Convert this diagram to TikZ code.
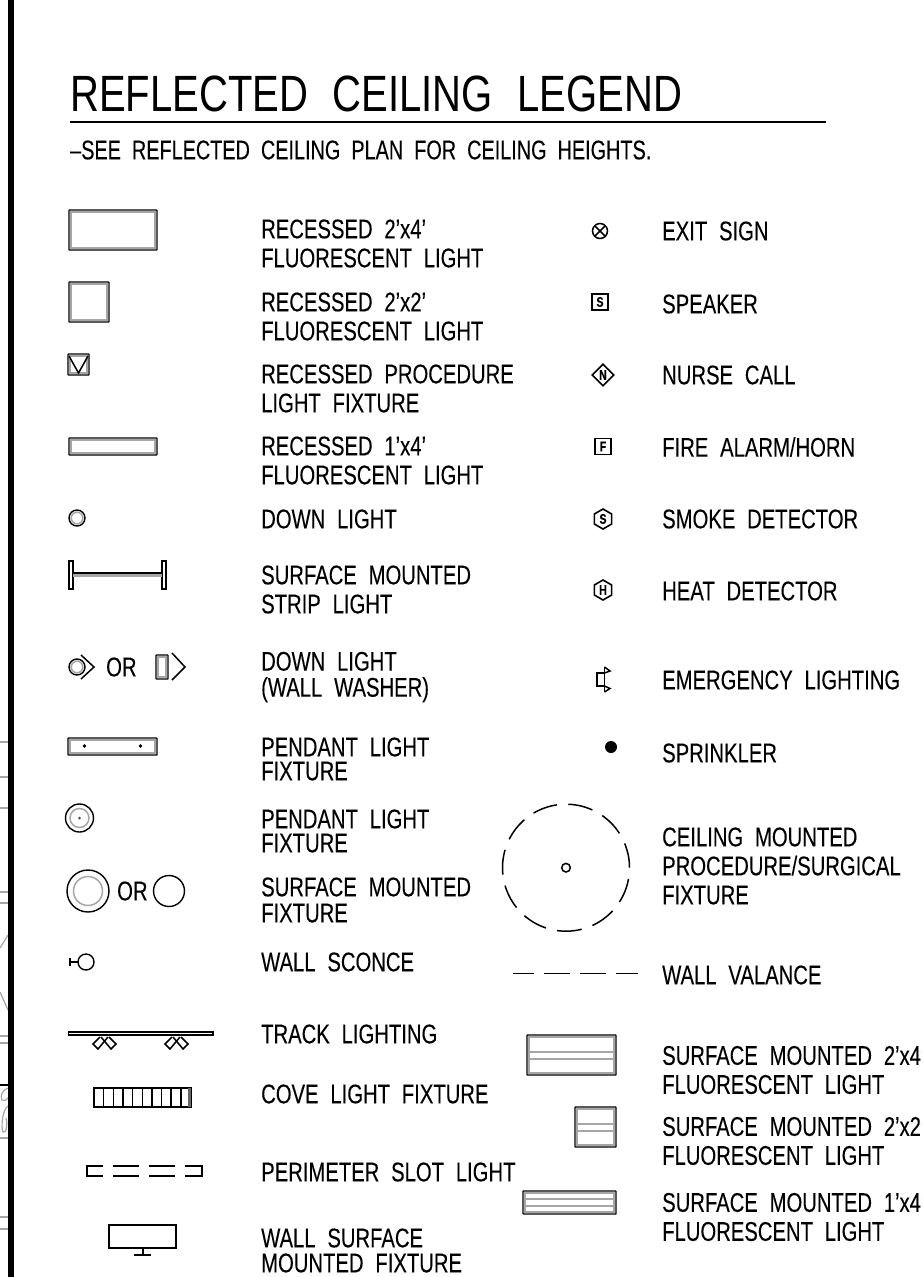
\documentclass[tikz,border=0pt]{standalone}
\usepackage{fontspec}
\setmainfont[FakeStretch=0.75,WordSpace=2.1,FakeBold=0.12]{Liberation Sans}
\newfontfamily\titlefont[FakeStretch=0.785,WordSpace=2.2]{Liberation Sans}
\newfontfamily\notefont[Ligatures=TeX,FakeStretch=0.735,WordSpace=2.0,FakeBold=0.12]{Liberation Sans}
\usepackage{tikz}
\usetikzlibrary{positioning,shapes.geometric}
\tikzset{
  lbl/.style={anchor=west, align=left, inner sep=0pt, font=\fontsize{27}{29}\selectfont},
  lampout/.style={draw=black, line width=1.4pt},
  lampin/.style={draw=black!35, line width=2.4pt},
  ringin/.style={draw=black!35, line width=1.5pt},
  thinline/.style={draw=black, line width=1.5pt},
  sheet/.style={draw=black!35, line width=1.2pt},
  tag/.style={draw=black, line width=1.6pt, inner sep=0pt, font=\fontsize{14}{14}\selectfont\bfseries},
  box/.style={tag, rectangle, minimum size=16pt},
  diamondtag/.style={tag, diamond, minimum size=22pt},
  hextag/.style={tag, regular polygon, regular polygon sides=6, regular polygon rotate=30, minimum size=20pt},
}
\begin{document}
\begin{tikzpicture}[x=1pt,y=-1pt]
  \clip[use as bounding box] (0,0) rectangle (922,1277);

  % sheet edge
  \foreach \yy in {742,777,808,892,903,1036,1043,1138,1217,1229}
    \draw[sheet] (0,\yy) -- (8,\yy);
  \draw[sheet] (0,948) -- (8,935);
  \draw[sheet] (0,992) -- (8,1010);
  \draw[sheet] (8,1088) .. controls (2,1090) and (0,1096) .. (2,1100) .. controls (4,1102) and (6,1100) .. (8,1098);
  \draw[sheet] (8,1106) .. controls (2,1110) and (1,1128) .. (3,1132) .. controls (6,1134) and (8,1124) .. (6,1118);
  \draw[draw=black, line width=1.2pt] (0,1085) -- (8,1085);
  \draw[draw=black, line width=6pt] (11,0) -- (11,1277);

  % heading
  \node[anchor=west, inner sep=0pt, font=\fontsize{51}{51}\titlefont] (title) at (70,94) {REFLECTED CEILING LEGEND};
  \coordinate (ruleA) at (70,122);
  \coordinate (ruleB) at (826,122);
  \draw[thinline] (ruleA) -- (ruleB);
  \node[lbl, font=\fontsize{27}{29}\notefont] (note) at (70,150) {--SEE REFLECTED CEILING PLAN FOR CEILING HEIGHTS.};

  % left labels
  \node[lbl] (lblA) at (261,243.5) {RECESSED 2'x4'\\FLUORESCENT LIGHT};
  \node[lbl] (lblB) at (261,316.5) {RECESSED 2'x2'\\FLUORESCENT LIGHT};
  \node[lbl] (lblC) at (261,388.5) {RECESSED PROCEDURE\\LIGHT FIXTURE};
  \node[lbl] (lblD) at (261,460.5) {RECESSED 1'x4'\\FLUORESCENT LIGHT};
  \node[lbl] (lblE) at (261,519) {DOWN LIGHT};
  \node[lbl] (lblF) at (261,589.5) {SURFACE MOUNTED\\STRIP LIGHT};
  \node[lbl] (lblG) at (261,677) {DOWN LIGHT\\[-3pt](WALL WASHER)};
  \node[lbl] (lblH) at (261,759) {PENDANT LIGHT\\[-5pt]FIXTURE};
  \node[lbl] (lblI) at (261,831) {PENDANT LIGHT\\[-5pt]FIXTURE};
  \node[lbl] (lblJ) at (261,900) {SURFACE MOUNTED\\[-3pt]FIXTURE};
  \node[lbl] (lblK) at (261,962) {WALL SCONCE};
  \node[lbl] (lblL) at (261,1034) {TRACK LIGHTING};
  \node[lbl] (lblM) at (261,1094) {COVE LIGHT FIXTURE};
  \node[lbl] (lblN) at (261,1172) {PERIMETER SLOT LIGHT};
  \node[lbl] (lblO) at (261,1250.5) {WALL SURFACE\\[-4pt]MOUNTED FIXTURE};

  % right labels
  \node[lbl] (lblP) at (662,231) {EXIT SIGN};
  \node[lbl] (lblQ) at (662,304) {SPEAKER};
  \node[lbl] (lblR) at (662,375) {NURSE CALL};
  \node[lbl] (lblS) at (662,447) {FIRE ALARM/HORN};
  \node[lbl] (lblT) at (662,519) {SMOKE DETECTOR};
  \node[lbl] (lblU) at (662,591) {HEAT DETECTOR};
  \node[lbl] (lblV) at (662,680) {EMERGENCY LIGHTING};
  \node[lbl] (lblW) at (662,753) {SPRINKLER};
  \node[lbl] (lblX) at (662,866) {CEILING MOUNTED\\PROCEDURE/SURGICAL\\FIXTURE};
  \node[lbl] (lblY) at (662,975) {WALL VALANCE};
  \node[lbl] (lblZ) at (662,1070) {SURFACE MOUNTED 2'x4'\\FLUORESCENT LIGHT};
  \node[lbl] (lblAA) at (662,1141) {SURFACE MOUNTED 2'x2'\\FLUORESCENT LIGHT};
  \node[lbl] (lblAB) at (662,1217) {SURFACE MOUNTED 1'x4'\\FLUORESCENT LIGHT};

  % recessed and surface fixtures
  \foreach \xa/\ya/\xb/\yb in {69/210/157/250, 69/282/109/322, 69/438/157/455, 68/738/157/755,
      68/354/89/375, 156/655/168/679, 527/1035/616/1075, 575/1107/616/1147, 523/1191/616/1214}{
    \draw[lampin] (\xa+2,\ya+2) rectangle (\xb-2,\yb-2);
    \draw[lampout, rounded corners=0.5pt] (\xa,\ya) rectangle (\xb,\yb);
  }
  \draw[thinline] (69,356) -- (78.5,373) -- (88,356);
  \foreach \xa/\xb/\ya/\yb in {529/614/1052/1059, 577/614/1124/1131, 525/614/1199/1206}{
    \draw[ringin] (\xa,\ya) -- (\xb,\ya);
    \draw[ringin] (\xa,\yb) -- (\xb,\yb);
  }
  \fill (84.5,746) circle (1.8);
  \fill (140.5,746) circle (1.8);

  % down lights
  \draw[ringin] (77,518) circle (5.8);
  \draw[lampout] (77,518) circle (8);
  \draw[ringin] (77,667) circle (5.8);
  \draw[lampout] (77,667) circle (8);
  \draw[thinline] (81,655) -- (94,667) -- (81,679);
  \draw[thinline] (172,653) -- (185,667) -- (172,680);
  \node[anchor=west, inner sep=0pt, font=\fontsize{27}{29}\selectfont] (orA) at (106,667) {OR};

  % strip light
  \draw[lampout] (69,561) rectangle (73,589);
  \draw[lampout] (162,561) rectangle (166,589);
  \draw[lampout] (73,573) -- (162,573);
  \draw[lampin] (73,575.5) -- (162,575.5);

  % round fixtures
  \draw[ringin] (79.5,818) circle (9.5);
  \draw[lampout] (79.5,818) circle (14);
  \fill[black!70] (79.5,818) circle (1.5);
  \draw[ringin] (88,891) circle (14.5);
  \draw[lampout] (88,891) circle (21);
  \node[anchor=west, inner sep=0pt, font=\fontsize{27}{29}\selectfont] (orB) at (117,891) {OR};
  \draw[lampout] (169,891) circle (15.5);

  % wall sconce
  \draw[lampout] (86,962) circle (8);
  \draw[thinline] (70,962) -- (78,962);
  \draw[thinline] (70,958) -- (70,966);

  % track lighting
  \draw[lampout] (68.5,1032) rectangle (213,1035);
  \foreach \dx in {0,72}{
    \draw[thinline, shift={(\dx,0)}] (108,1037) -- (98,1049) -- (93,1044) -- (100,1037);
    \draw[thinline, shift={(\dx,0)}] (101,1037) -- (111,1049) -- (116,1044) -- (109,1037);
  }

  % cove light
  \draw[lampout] (94,1088) rectangle (191,1107);
  \foreach \i in {1,...,9}
    \draw[thinline] (94+\i*9.65,1088) -- (94+\i*9.65,1107);
  \fill[black!60] (188,1088) rectangle (191,1107);

  % perimeter slot
  \draw[thinline] (103,1166) -- (87,1166) -- (87,1176) -- (103,1176);
  \draw[thinline] (185,1166) -- (202,1166) -- (202,1176) -- (185,1176);
  \foreach \xa/\xb in {113/139, 149/175}{
    \draw[thinline] (\xa,1166) -- (\xb,1166);
    \draw[thinline] (\xa,1176) -- (\xb,1176);
  }

  % wall surface fixture
  \draw[thinline] (109,1225) rectangle (176,1248);
  \draw[thinline] (143,1248) -- (143,1255);
  \draw[thinline] (134,1255) -- (151,1255);

  % devices
  \draw[thinline] (600,231) circle (7.5);
  \draw[thinline] (594.7,225.7) -- (605.3,236.3);
  \draw[thinline] (594.7,236.3) -- (605.3,225.7);
  \node[box] (speaker) at (600,302) {S};
  \node[diamondtag] (nurse) at (603,375) {N};
  \node[box] (alarm) at (603,446.5) {F};
  \node[hextag] (smoke) at (603,519) {S};
  \node[hextag] (heat) at (603,590) {H};

  % emergency lighting
  \draw[thinline] (597,673) rectangle (604.5,686);
  \draw[thinline] (604.5,667) -- (604.5,692);
  \draw[thinline] (604.5,667) -- (610,671) -- (604.5,673);
  \draw[thinline] (604.5,686) -- (610,688.5) -- (604.5,692);

  % sprinkler
  \fill (611,747) circle (6);

  % procedure fixture
  \coordinate (lamp) at (566,867.7);
  \draw[thinline] (lamp) circle (4.3);
  \foreach \a in {0,...,10}
    \draw[thinline, shift={(lamp)}] (\a*32.73:63.5pt) arc[start angle=\a*32.73, delta angle=22.5, radius=63.5pt];

  % wall valance
  \foreach \xa/\xb in {513/534, 544/570, 580/606, 616/638}
    \draw[thinline] (\xa,973.5) -- (\xb,973.5);
\end{tikzpicture}
\end{document}
